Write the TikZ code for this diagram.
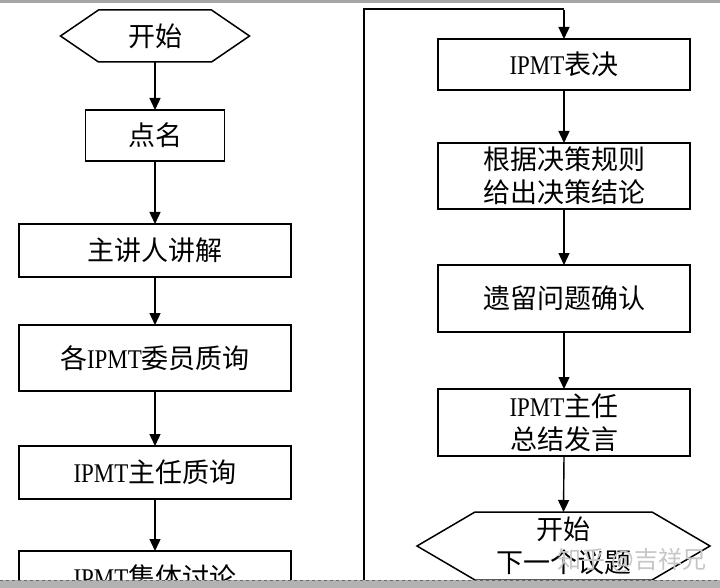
\documentclass[tikz,border=0pt]{standalone}
\usepackage{fontspec}
\setmainfont{Noto Sans CJK SC}
\newfontfamily\ipmtfont[FakeStretch=0.85]{Liberation Serif}
\newcommand\ipmt{{\ipmtfont IPMT}}
\usetikzlibrary{arrows.meta}
\begin{document}
\begin{tikzpicture}[x=1pt,y=-1pt,
  every node/.style={inner sep=0pt,outer sep=0pt,font=\fontsize{27}{33}\selectfont,align=center},
  procbox/.style={draw,line width=1.5pt},
  hexnode/.style={},
  flow/.style={line width=1.4pt,-{Triangle[length=12pt,width=11pt]}},
  loopline/.style={line width=2.2pt}]
\useasboundingbox (0,0) rectangle (720,588);
\fill[white] (0,0) rectangle (720,588);

% left column
\node[hexnode,minimum width=189pt,minimum height=52pt] (start) at (155,36) {开始};
\draw[line width=1.5pt] (start.west) -- ([xshift=38pt]start.north west) -- ([xshift=-38pt]start.north east)
  -- (start.east) -- ([xshift=-38pt]start.south east) -- ([xshift=38pt]start.south west) -- cycle;
\node[procbox,minimum width=139pt,minimum height=51pt] (dm) at (155,135.5) {点名};
\node[procbox,minimum width=272pt,minimum height=53pt] (zj) at (155,250.5) {主讲人讲解};
\node[procbox,minimum width=272pt,minimum height=66pt] (gw) at (155,358) {各\ipmt 委员质询};
\node[procbox,minimum width=272pt,minimum height=53pt] (zr) at (155,472.5) {\ipmt 主任质询};
\node[procbox,minimum width=272pt,minimum height=53pt] (jt) at (155,577.5) {\ipmt 集体讨论};

\draw[flow] (start.south) -- (dm.north);
\draw[flow] (dm.south) -- (zj.north);
\draw[flow] (zj.south) -- (gw.north);
\draw[flow] (gw.south) -- (zr.north);
\draw[flow] (zr.south) -- (jt.north);

% right column
\node[procbox,minimum width=252pt,minimum height=51pt] (bj) at (564,64.5) {\ipmt 表决};
\node[procbox,minimum width=252pt,minimum height=66pt] (gj) at (564,176) {根据决策规则\\给出决策结论};
\node[procbox,minimum width=252pt,minimum height=67pt] (yl) at (564,298.5) {遗留问题确认};
\node[procbox,minimum width=252pt,minimum height=67pt] (zz) at (564,422.5) {\ipmt 主任\\总结发言};
\node[hexnode,minimum width=293pt,minimum height=68pt] (end) at (563.5,546) {开始\\下一个议题};
\draw[line width=1.5pt] (end.west) -- ([xshift=58pt]end.north west) -- ([xshift=-58pt]end.north east)
  -- (end.east) -- ([xshift=-58pt]end.south east) -- ([xshift=58pt]end.south west) -- cycle;

\draw[flow] (bj.south) -- (gj.north);
\draw[flow] (gj.south) -- (yl.north);
\draw[flow] (yl.south) -- (zz.north);
\draw[flow] (zz.south) -- (end.north);

% loop line
\coordinate (loopfoot) at (364,600);
\coordinate (looptop) at (364,9);
\draw[loopline] (loopfoot) -- (looptop) -- (bj.north |- looptop);
\draw[flow] ([yshift=-1.1pt]bj.north |- looptop) -- (bj.north);

% watermark
\node[text=gray!45,font=\fontsize{24}{28}\selectfont] (wm) at (632,560) {知乎 @吉祥兄};

% scan borders
\fill[gray!70] (0,0) rectangle (720,3);
\fill[gray!60] (0,580) rectangle (720,588);
\draw[gray!80!black,line width=1pt,dashed] (0,580) -- (720,580);
\end{tikzpicture}
\end{document}
